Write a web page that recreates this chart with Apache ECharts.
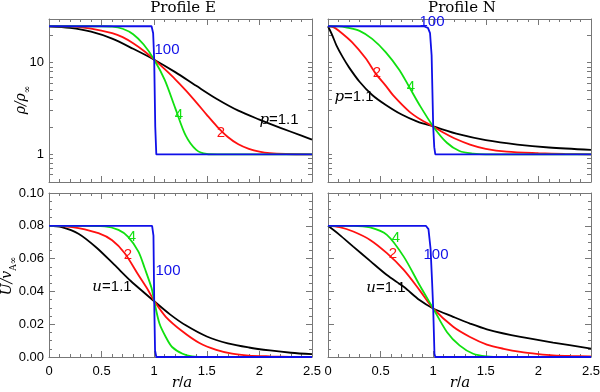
<!DOCTYPE html>
<html>
<head>
<meta charset="utf-8">
<script src="https://cdn.jsdelivr.net/npm/echarts@6/dist/echarts.min.js"></script>
<style>
  html, body { margin: 0; padding: 0; background: #fff; }
  #chart { width: 600px; height: 392px; }
</style>
</head>
<body>
<div id="chart"></div>
<script>
// tick values for the log axes
const rhoTicks = [0.6, 0.7, 0.8, 0.9, 1, 2, 3, 4, 5, 6, 7, 8, 9, 10, 20]
const rhoLabels = [1, 10]

// Profile E, density  [r/a, rho/rho_inf]
const rhoE_p11 = [[0,25],[0.2,24],[0.4,21.8],[0.6,18.3],[0.8,14.2],[1.0,10.8],[1.2,7.9],[1.4,5.6],[1.6,4.0],[1.8,3.0],[2.0,2.4],[2.2,1.95],[2.4,1.6],[2.5,1.45]]
const rhoE_p2 = [[0,25],[0.2,24.9],[0.4,23.6],[0.6,21],[0.7,19],[0.8,16.3],[0.9,13.5],[1.0,10.8],[1.1,8.5],[1.2,6.6],[1.3,5.0],[1.4,3.7],[1.5,2.7],[1.6,2.0],[1.7,1.55],[1.8,1.29],[1.9,1.15],[2.0,1.07],[2.1,1.03],[2.25,1.01],[2.5,1.0]]
const rhoE_p4 = [[0,25],[0.3,25],[0.5,25],[0.6,24.8],[0.7,23.5],[0.8,20.5],[0.9,15.8],[1.0,10.8],[1.1,6.5],[1.2,3.2],[1.3,1.6],[1.4,1.12],[1.5,1.01],[1.6,1.0],[2.0,1.0],[2.5,1.0]]
const rhoE_p100 = [[0,25],[0.975,25],[0.99,21],[1.0,10.8],[1.01,2],[1.02,1],[2.5,1]]

// Profile N, density
const rhoN_p11 = [[0,25],[0.04,20],[0.08,15.5],[0.14,11.5],[0.2,8.9],[0.3,6.2],[0.42,4.45],[0.55,3.46],[0.7,2.72],[0.85,2.28],[1.0,2.02],[1.25,1.65],[1.5,1.43],[1.8,1.28],[2.1,1.19],[2.5,1.12]]
const rhoN_p2 = [[0,25],[0.05,24.5],[0.1,22.5],[0.23,16.7],[0.36,11.1],[0.45,7.7],[0.55,5.6],[0.62,4.4],[0.77,2.95],[0.88,2.4],[1.0,2.02],[1.1,1.72],[1.2,1.5],[1.35,1.28],[1.5,1.15],[1.7,1.07],[2.0,1.03],[2.25,1.01],[2.5,1.0]]
const rhoN_p4 = [[0,25],[0.1,24.9],[0.17,24.3],[0.3,22.3],[0.42,18.2],[0.55,13],[0.68,8.3],[0.77,5.5],[0.87,3.46],[1.0,2.02],[1.13,1.34],[1.25,1.09],[1.38,1.02],[1.5,1.0],[1.8,1.0],[2.1,1.0],[2.5,1.0]]
const rhoN_p100 = [[0,25],[0.91,25],[0.95,24],[0.97,21],[0.985,12],[1.0,2.02],[1.01,1.2],[1.02,1.0],[2.5,1.0]]

// Profile E, velocity  [r/a, U/v_Ainf]
const uE_p11 = [[0,0.08],[0.12,0.0792],[0.28,0.0752],[0.45,0.0668],[0.62,0.0563],[0.78,0.0462],[0.9,0.0395],[1.0,0.034],[1.15,0.026],[1.3,0.0193],[1.5,0.0125],[1.7,0.0083],[1.9,0.0058],[2.1,0.004],[2.3,0.0026],[2.5,0.0017]]
const uE_p2 = [[0,0.08],[0.15,0.0797],[0.28,0.0786],[0.47,0.0755],[0.6,0.0712],[0.72,0.0633],[0.85,0.05],[0.94,0.041],[1.0,0.0342],[1.11,0.0245],[1.27,0.0155],[1.43,0.0085],[1.59,0.0043],[1.74,0.002],[1.9,0.0009],[2.1,0.0004],[2.3,0.0001],[2.5,0]]
const uE_p4 = [[0,0.08],[0.3,0.08],[0.53,0.0797],[0.66,0.0775],[0.75,0.0734],[0.85,0.0643],[0.91,0.0541],[0.975,0.042],[1.0,0.0342],[1.05,0.0204],[1.11,0.0122],[1.17,0.0061],[1.27,0.002],[1.36,0.0004],[1.5,0],[1.8,0],[2.1,0],[2.5,0]]
const uE_p100 = [[0,0.08],[0.98,0.08],[0.993,0.074],[1.0,0.0342],[1.008,0.004],[1.02,0],[2.5,0]]

// Profile N, velocity
const uN_p11 = [[0,0.08],[0.11,0.0745],[0.24,0.0673],[0.4,0.0586],[0.56,0.05],[0.72,0.0428],[0.87,0.0347],[1.0,0.0296],[1.19,0.0245],[1.35,0.0204],[1.51,0.0169],[1.83,0.0122],[2.14,0.0088],[2.5,0.0051]]
const uN_p2 = [[0,0.08],[0.11,0.0792],[0.24,0.0765],[0.4,0.0714],[0.56,0.0633],[0.72,0.0531],[0.87,0.0408],[1.0,0.0296],[1.19,0.0184],[1.35,0.0122],[1.51,0.0076],[1.67,0.005],[1.83,0.0031],[2.0,0.0018],[2.14,0.001],[2.3,0.0006],[2.5,0.0004]]
const uN_p4 = [[0,0.08],[0.12,0.08],[0.24,0.08],[0.4,0.079],[0.56,0.0745],[0.72,0.0612],[0.87,0.0439],[1.0,0.0296],[1.13,0.0153],[1.25,0.0071],[1.38,0.002],[1.51,0.0004],[1.65,0],[1.9,0],[2.2,0],[2.5,0]]
const uN_p100 = [[0,0.08],[0.93,0.08],[0.955,0.078],[0.975,0.066],[0.99,0.045],[1.0,0.0296],[1.012,0.002],[1.02,0],[2.5,0]]

const lineColors = ['#000000', '#ff1010', '#10e010', '#1010e8']
const frameColor = '#777'
const tickFont = 'Liberation Sans'

const chart = echarts.init(document.getElementById('chart'))

const grids = [
  { left: 49, top: 19, width: 263, height: 163 },
  { left: 328, top: 19, width: 263, height: 163 },
  { left: 49, top: 193, width: 263, height: 164 },
  { left: 328, top: 193, width: 263, height: 164 }
].map(g => Object.assign({ outerBoundsMode: 'none', containLabel: false }, g))

const xAxes = []
const yAxes = []
const mainY = []

grids.forEach((g, gi) => {
  ['bottom', 'top'].forEach(pos => {
    xAxes.push({
      type: 'value', gridIndex: gi, position: pos,
      min: 0, max: 2.5, interval: 0.5,
      axisLine: { show: true, onZero: false, lineStyle: { color: frameColor, width: 1 } },
      axisTick: { inside: true, length: 6, lineStyle: { color: frameColor } },
      minorTick: { show: true, splitNumber: 5, length: 3, lineStyle: { color: frameColor } },
      axisLabel: { show: pos === 'bottom' && gi >= 2, color: '#000', fontFamily: tickFont, fontSize: 13, margin: 8 },
      splitLine: { show: false }
    })
  })

  const isLog = gi < 2
  ;['left', 'right'].forEach(pos => {
    const showLabel = pos === 'left' && gi % 2 === 0
    if (pos === 'left') mainY[gi] = yAxes.length
    if (isLog) {
      yAxes.push({
        type: 'log', logBase: 10, gridIndex: gi, position: pos,
        min: 0.5, max: 30,
        axisLine: { show: true, onZero: false, lineStyle: { color: frameColor, width: 1 } },
        // custom ticks came out pointing outward, so flip them with a negative length
        axisTick: { inside: false, length: -4, customValues: rhoTicks, lineStyle: { color: frameColor } },
        axisLabel: { show: showLabel, customValues: rhoLabels, color: '#000', fontFamily: tickFont, fontSize: 13, margin: 5 },
        splitLine: { show: false }
      })
    } else {
      yAxes.push({
        type: 'value', gridIndex: gi, position: pos,
        min: 0, max: 0.1, interval: 0.02,
        axisLine: { show: true, onZero: false, lineStyle: { color: frameColor, width: 1 } },
        axisTick: { inside: true, length: 6, lineStyle: { color: frameColor } },
        minorTick: { show: true, splitNumber: 4, length: 3, lineStyle: { color: frameColor } },
        axisLabel: { show: showLabel, color: '#000', fontFamily: tickFont, fontSize: 13, margin: 5,
          formatter: v => v.toFixed(2) },
        splitLine: { show: false }
      })
    }
  })
})

const panelData = [
  [rhoE_p11, rhoE_p2, rhoE_p4, rhoE_p100],
  [rhoN_p11, rhoN_p2, rhoN_p4, rhoN_p100],
  [uE_p11, uE_p2, uE_p4, uE_p100],
  [uN_p11, uN_p2, uN_p4, uN_p100]
]

const series = []
panelData.forEach((curves, gi) => {
  curves.forEach((d, ci) => {
    series.push({
      type: 'line',
      xAxisIndex: gi * 2,
      yAxisIndex: mainY[gi],
      data: d,
      showSymbol: false,
      smooth: ci === 3 ? false : 0.3,
      lineStyle: { color: lineColors[ci], width: 1.8 },
      z: 2 + ci,
      silent: true
    })
  })
})

const txt = (text, x, y, color, extra) => ({
  type: 'text', x, y, z: 100,
  style: Object.assign({
    text, fill: color, fontFamily: tickFont, fontSize: 15,
    align: 'center', verticalAlign: 'middle'
  }, extra || {})
})
const italic = { fontFamily: 'DejaVu Serif', fontStyle: 'italic', fontSize: 15 }
const subRich = {
  a: { fontFamily: 'DejaVu Serif', fontStyle: 'italic', fontSize: 14, padding: [0, 0, 4, 0], verticalAlign: 'bottom' },
  s: { fontFamily: 'DejaVu Serif', fontSize: 9, verticalAlign: 'bottom' }
}

const graphic = [
  txt('Profile E', 183, 8, '#000', { fontFamily: 'DejaVu Serif', fontSize: 15 }),
  txt('Profile N', 462, 8, '#000', { fontFamily: 'DejaVu Serif', fontSize: 15 }),
  txt('{i|r}/{i|a}', 182, 383, '#000', { rich: { i: italic } }),
  txt('{i|r}/{i|a}', 460, 383, '#000', { rich: { i: italic } }),
  Object.assign(txt('{a|ρ/ρ}{s|∞}', 23, 100, '#000', { rich: subRich }), { rotation: Math.PI / 2 }),
  Object.assign(txt('{a|U/v}{s|A∞}', 9, 276, '#000', { rich: subRich }), { rotation: Math.PI / 2 }),

  // curve labels, Profile E density
  txt('100', 167, 50, lineColors[3]),
  txt('4', 179, 115, lineColors[2]),
  txt('2', 221, 133, lineColors[1]),
  txt('{i|p}=1.1', 279, 120, '#000', { rich: { i: italic } }),
  // Profile N density
  txt('100', 432, 22, lineColors[3]),
  txt('2', 377, 73, lineColors[1]),
  txt('4', 411, 87, lineColors[2]),
  txt('{i|p}=1.1', 354, 97, '#000', { rich: { i: italic } }),
  // Profile E velocity
  txt('4', 132, 237, lineColors[2]),
  txt('2', 128, 255, lineColors[1]),
  txt('100', 168, 271, lineColors[3]),
  txt('{i|u}=1.1', 112, 287, '#000', { rich: { i: italic } }),
  // Profile N velocity
  txt('4', 396, 238, lineColors[2]),
  txt('2', 393, 254, lineColors[1]),
  txt('100', 436, 255, lineColors[3]),
  txt('{i|u}=1.1', 386, 288, '#000', { rich: { i: italic } })
]

chart.setOption({
  animation: false,
  backgroundColor: '#fff',
  grid: grids,
  xAxis: xAxes,
  yAxis: yAxes,
  series,
  graphic
})
</script>
</body>
</html>
